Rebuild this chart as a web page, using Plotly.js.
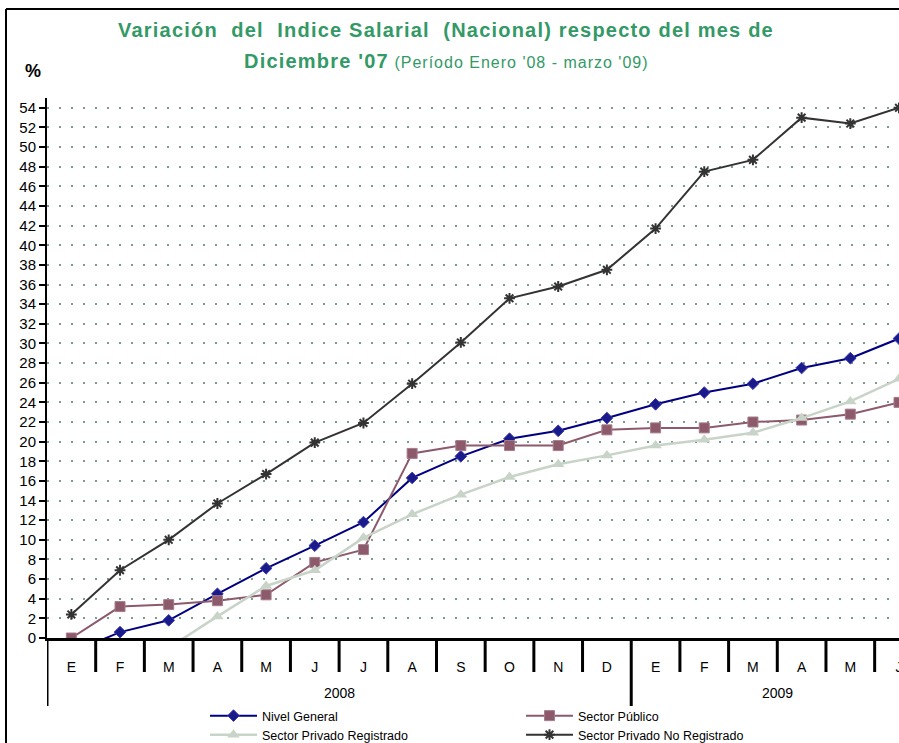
<!DOCTYPE html>
<html>
<head>
<meta charset="utf-8">
<script src="https://cdn.plot.ly/plotly-3.0.1.min.js"></script>
<style>
  html, body { margin: 0; padding: 0; background: #fff; }
  #chart { width: 899px; height: 743px; }
</style>
</head>
<body>
<div id="chart"></div>
<script>
// ---- Data ----
const months = ['E','F','M','A','M','J','J','A','S','O','N','D','E','F','M','A','M','J'];
const years = ['2008', '2009'];
const nivelGeneral = [-1.5, 0.6, 1.8, 4.5, 7.1, 9.4, 11.8, 16.3, 18.5, 20.3, 21.1, 22.4, 23.8, 25.0, 25.9, 27.5, 28.5, 30.5];
const sectorPublico = [0.0, 3.2, 3.4, 3.8, 4.4, 7.7, 9.0, 18.8, 19.6, 19.6, 19.6, 21.2, 21.4, 21.4, 22.0, 22.2, 22.8, 24.0];
const privadoRegistrado = [-4.5, -2.8, -1.0, 2.2, 5.3, 6.9, 10.2, 12.6, 14.6, 16.4, 17.7, 18.6, 19.6, 20.2, 20.9, 22.4, 24.1, 26.4];
const privadoNoRegistrado = [2.4, 6.9, 10.0, 13.7, 16.7, 19.9, 21.9, 25.9, 30.1, 34.6, 35.8, 37.5, 41.7, 47.5, 48.7, 53.0, 52.4, 54.0];
const yTicks = [0,2,4,6,8,10,12,14,16,18,20,22,24,26,28,30,32,34,36,38,40,42,44,46,48,50,52,54];

// ---- Layout geometry ----
const W = 899, H = 743;
const M = {l: 47, r: 0, t: 98, b: 105, autoexpand: false};
const plotW = W - M.l - M.r, plotH = H - M.t - M.b;
const px2x = px => (px - M.l) / plotW;
const py2y = py => (H - M.b - py) / plotH;

const idx = months.map((_, i) => i);
const FONT = '"Liberation Sans", Arial, sans-serif';

const traces = [
  {name: 'Nivel General', y: nivelGeneral, legend: 'legend', line: {color: '#000080', width: 2},
   marker: {symbol: 'diamond', size: 9, color: '#1a1a8a', line: {color: '#3a3ab0', width: 1}}},
  {name: 'Sector Público', y: sectorPublico, legend: 'legend', line: {color: '#8c5a6a', width: 2},
   marker: {symbol: 'square', size: 10, color: '#8c5a6a', line: {color: '#a67c8a', width: 1}}},
  {name: 'Sector Privado Registrado', y: privadoRegistrado, legend: 'legend2', line: {color: '#c8d4c8', width: 2.5},
   marker: {symbol: 'triangle-up', size: 11, color: '#c8d4c8', line: {color: '#c8d4c8', width: 0}}},
  {name: 'Sector Privado No Registrado', y: privadoNoRegistrado, legend: 'legend2', line: {color: '#333333', width: 2},
   marker: {symbol: 'asterisk-open', size: 9, color: '#333333', line: {color: '#333333', width: 2}}}
].map(t => Object.assign({x: idx, type: 'scatter', mode: 'lines+markers', cliponaxis: true}, t));

// divider shapes below the x axis
const shapes = [];
for (let i = 0; i < months.length - 1; i++) {
  const xb = i + 0.5;
  const isYear = (i === 11);
  shapes.push({type: 'line', xref: 'x', yref: 'paper', x0: xb, x1: xb,
    y0: 0, y1: py2y(isYear ? 706 : 672), line: {color: '#000', width: 3}});
}
shapes.push({type: 'line', xref: 'x', yref: 'paper', x0: -0.5, x1: -0.5,
  y0: 0, y1: py2y(706), line: {color: '#000', width: 3}});
// outer frame
shapes.push({type: 'line', xref: 'paper', yref: 'paper', x0: px2x(6), x1: px2x(6),
  y0: py2y(9), y1: py2y(760), line: {color: '#000', width: 2}});
shapes.push({type: 'line', xref: 'paper', yref: 'paper', x0: px2x(6), x1: px2x(920),
  y0: py2y(9), y1: py2y(9), line: {color: '#000', width: 2}});

const annotations = [
  {xref: 'paper', yref: 'paper', x: px2x(446), y: py2y(61), xanchor: 'center', yanchor: 'middle',
   showarrow: false,
   text: "<span style='letter-spacing:1.2px'><b>Diciembre '07</b></span> <span style='font-size:16px;letter-spacing:1px'>(Período Enero '08 - marzo '09)</span>",
   font: {family: FONT, size: 20, color: '#339966'}},
  {xref: 'paper', yref: 'paper', x: px2x(33), y: py2y(71), xanchor: 'center', yanchor: 'middle',
   showarrow: false, text: '<b>%</b>', font: {family: FONT, size: 18, color: '#000'}},
  {xref: 'x', yref: 'paper', x: 5.5, y: py2y(693), xanchor: 'center', yanchor: 'middle',
   showarrow: false, text: years[0], font: {family: FONT, size: 14, color: '#000'}},
  {xref: 'x', yref: 'paper', x: 14.5, y: py2y(693), xanchor: 'center', yanchor: 'middle',
   showarrow: false, text: years[1], font: {family: FONT, size: 14, color: '#000'}}
];

const legendCommon = {
  orientation: 'h', xref: 'paper', yref: 'paper',
  xanchor: 'left', yanchor: 'middle',
  entrywidth: 254, entrywidthmode: 'pixels', itemwidth: 47,
  font: {family: FONT, size: 12.5, color: '#000'},
  bgcolor: 'rgba(0,0,0,0)', borderwidth: 0, tracegroupgap: 0
};

const layout = {
  width: W, height: H,
  margin: M,
  paper_bgcolor: '#fff', plot_bgcolor: '#fff',
  font: {family: FONT, color: '#000'},
  title: {text: "<span style='letter-spacing:1.2px'><b>Variación  del  Indice Salarial  (Nacional) respecto del mes de</b></span>",
    font: {family: FONT, size: 20, color: '#339966'},
    xref: 'paper', x: px2x(446), xanchor: 'center',
    yref: 'container', y: 1 - 30 / H, yanchor: 'middle'},
  xaxis: {
    type: 'linear', range: [-0.5, 17.0], fixedrange: true,
    tickmode: 'array', tickvals: idx, ticktext: months,
    ticks: '', ticklabelstandoff: 14, ticklabeloverflow: 'allow',
    tickfont: {family: FONT, size: 14, color: '#000'},
    showgrid: false, zeroline: false,
    showline: true, linecolor: '#000', linewidth: 3
  },
  yaxis: {
    range: [0, 55], fixedrange: true,
    tickmode: 'array', tickvals: yTicks, ticktext: yTicks.map(String),
    ticks: 'outside', ticklen: 6, tickwidth: 2, tickcolor: '#000',
    tickfont: {family: FONT, size: 15, color: '#000'},
    showgrid: true, gridcolor: '#7d9c90', gridwidth: 2, griddash: '2px,10px',
    zeroline: false, showline: true, linecolor: '#000', linewidth: 2
  },
  showlegend: true,
  legend: Object.assign({}, legendCommon, {x: px2x(205), y: py2y(716)}),
  legend2: Object.assign({}, legendCommon, {x: px2x(205), y: py2y(735)}),
  shapes: shapes,
  annotations: annotations
};

Plotly.newPlot('chart', traces, layout, {displayModeBar: false, staticPlot: true});
</script>
</body>
</html>
